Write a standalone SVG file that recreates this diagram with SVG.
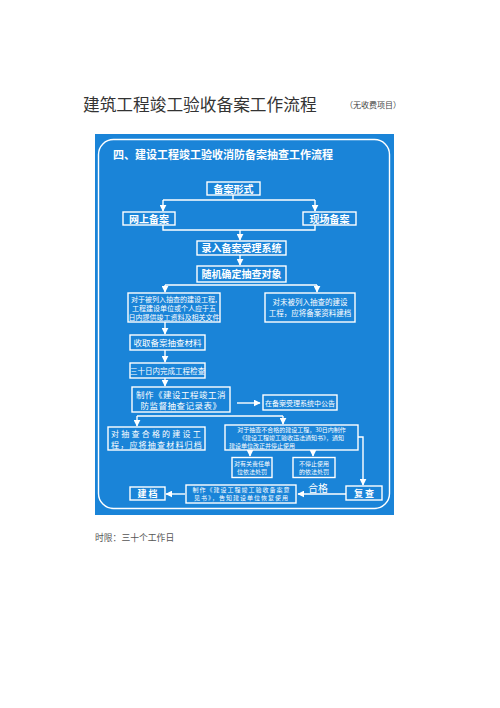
<svg xmlns="http://www.w3.org/2000/svg" width="500" height="708" viewBox="0 0 500 708">
<style>
.t{font-family:"Noto Sans CJK SC","Liberation Sans",sans-serif;fill:#fff;text-anchor:middle}
.b{fill:#1a84d8;stroke:#fff;stroke-width:1.4}
.c{fill:none;stroke:#fff;stroke-width:1.4}
</style>
<defs>
<marker id="ar" viewBox="0 0 10 10" refX="9" refY="5" markerWidth="5" markerHeight="5" orient="auto">
<path d="M0,0 L10,5 L0,10 z" fill="#fff"/>
</marker>
</defs>
<rect width="500" height="708" fill="#fff"/>
<text x="83" y="111" font-family="Noto Sans CJK SC,sans-serif" font-size="16.7" fill="#333">建筑工程竣工验收备案工作流程</text>
<text x="345" y="108" font-family="Noto Sans CJK SC,sans-serif" font-size="8" fill="#444">（无收费项目）</text>
<rect x="95" y="134" width="299" height="381" fill="#1a84d8"/>
<rect x="98.5" y="139.5" width="291" height="369" rx="15" fill="none" stroke="#fff" stroke-width="1.4"/>
<text class="t" x="113" y="159" font-size="11" font-weight="bold" style="text-anchor:start">四、建设工程竣工验收消防备案抽查工作流程</text>
<g id="connectors">
<polyline class="c" points="233,195 233,200"/>
<polyline class="c" points="163,200 315,200"/>
<line class="c" x1="163" y1="200" x2="163" y2="211" marker-end="url(#ar)"/>
<line class="c" x1="315" y1="200" x2="315" y2="211" marker-end="url(#ar)"/>
<polyline class="c" points="163,225 163,230 315,230 315,225"/>
<line class="c" x1="240" y1="230" x2="240" y2="240" marker-end="url(#ar)"/>
<line class="c" x1="240" y1="255" x2="240" y2="265" marker-end="url(#ar)"/>
<polyline class="c" points="165,285 317,285"/>
<line class="c" x1="165" y1="285" x2="165" y2="292" marker-end="url(#ar)"/>
<line class="c" x1="317" y1="285" x2="317" y2="292" marker-end="url(#ar)"/>
<line class="c" x1="165" y1="322" x2="165" y2="334" marker-end="url(#ar)"/>
<line class="c" x1="165" y1="350" x2="165" y2="362" marker-end="url(#ar)"/>
<line class="c" x1="165" y1="378" x2="165" y2="386" marker-end="url(#ar)"/>
<line class="c" x1="237" y1="403" x2="260" y2="403" marker-end="url(#ar)"/>
<polyline class="c" points="137,416 283,416"/>
<line class="c" x1="137" y1="416" x2="137" y2="426" marker-end="url(#ar)"/>
<line class="c" x1="283" y1="416" x2="283" y2="424" marker-end="url(#ar)"/>
<line class="c" x1="250" y1="450" x2="250" y2="456" marker-end="url(#ar)"/>
<line class="c" x1="313" y1="450" x2="313" y2="456" marker-end="url(#ar)"/>
<polyline class="c" points="358,437 363,437 363,485" marker-end="url(#ar)"/>
<line class="c" x1="346" y1="494" x2="298" y2="494" marker-end="url(#ar)"/>
<line class="c" x1="185" y1="494" x2="166" y2="494" marker-end="url(#ar)"/>
</g>
<g id="n1"><rect class="b" x="207" y="182" width="53" height="13"/><text class="t" x="233.5" y="192.5" font-size="10" font-weight="bold">备案形式</text></g>
<g id="n2"><rect class="b" x="123" y="212" width="52" height="13"/><text class="t" x="149" y="222.5" font-size="10" font-weight="bold">网上备案</text></g>
<g id="n3"><rect class="b" x="303" y="212" width="53" height="13"/><text class="t" x="329.5" y="222.5" font-size="10" font-weight="bold">现场备案</text></g>
<g id="n4"><rect class="b" x="197" y="241" width="89" height="14"/><text class="t" x="241.5" y="252" font-size="10" font-weight="bold">录入备案受理系统</text></g>
<g id="n5"><rect class="b" x="197" y="266" width="89" height="16"/><text class="t" x="241.5" y="278" font-size="10" font-weight="bold">随机确定抽查对象</text></g>
<g id="n6"><rect class="b" x="128" y="293" width="92" height="29"/><text class="t" font-size="7"><tspan x="174" y="302">对于被列入抽查的建设工程,</tspan><tspan x="174" y="311">工程建设单位或个人应于五</tspan><tspan x="174" y="320">日内提供竣工资料及相关文件</tspan></text></g>
<g id="n7"><rect class="b" x="265" y="293" width="90" height="29"/><text class="t" font-size="7.5"><tspan x="310" y="305">对未被列入抽查的建设</tspan><tspan x="310" y="316">工程，应将备案资料建档</tspan></text></g>
<g id="n8"><rect class="b" x="130" y="335" width="75" height="15"/><text class="t" x="167.5" y="346" font-size="8.5">收取备案抽查材料</text></g>
<g id="n9"><rect class="b" x="130" y="363" width="75" height="15"/><text class="t" x="167.5" y="374" font-size="7.5">三十日内完成工程检查</text></g>
<g id="n10"><rect class="b" x="132" y="387" width="98" height="25"/><text class="t" font-size="8.5" letter-spacing="0.5"><tspan x="181" y="397.5">制作《建设工程竣工消</tspan><tspan x="181" y="409">防监督抽查记录表》</tspan></text></g>
<g id="n11"><rect class="b" x="263" y="395" width="74" height="15"/><text class="t" x="300" y="405.5" font-size="7">在备案受理系统中公告</text></g>
<g id="n12"><rect class="b" x="108" y="427" width="97" height="23"/><text class="t" font-size="8"><tspan x="157" y="437" letter-spacing="2.2">对抽查合格的建设工</tspan><tspan x="157" y="448" letter-spacing="1.2">程，应将抽查材料归档</tspan></text></g>
<g id="n13"><rect class="b" x="225" y="425" width="133" height="25"/><text class="t" font-size="6"><tspan x="291.5" y="432">对于抽查不合格的建设工程，30日内制作</tspan><tspan x="291.5" y="440">《建设工程竣工验收违法通知书》，通知</tspan><tspan x="262" y="448">建设单位改正并停止使用</tspan></text></g>
<g id="n14"><rect class="b" x="232" y="457.5" width="40" height="20"/><text class="t" font-size="6"><tspan x="252" y="465.5">对有关责任单</tspan><tspan x="252" y="474">位依法处罚</tspan></text></g>
<g id="n15"><rect class="b" x="293" y="457.5" width="42" height="20"/><text class="t" font-size="6"><tspan x="314" y="465.5">不停止使用</tspan><tspan x="314" y="474">的依法处罚</tspan></text></g>
<g id="n16"><rect class="b" x="346" y="486" width="36" height="14"/><text class="t" x="364" y="496.5" font-size="9" font-weight="bold">复 查</text></g>
<text class="t" x="318" y="492" font-size="10">合格</text>
<g id="n17"><rect class="b" x="186" y="485" width="110" height="18"/><text class="t" font-size="6" letter-spacing="1"><tspan x="241.5" y="492">制作《建设工程竣工验收备案意</tspan><tspan x="241.5" y="500.3">见书》，告知建设单位恢复使用</tspan></text></g>
<g id="n18"><rect class="b" x="130" y="487" width="35" height="13"/><text class="t" x="147.5" y="497" font-size="9" font-weight="bold">建 档</text></g>
<text x="95" y="541" font-family="Noto Sans CJK SC,sans-serif" font-size="8.8" fill="#555">时限：三十个工作日</text>
</svg>
